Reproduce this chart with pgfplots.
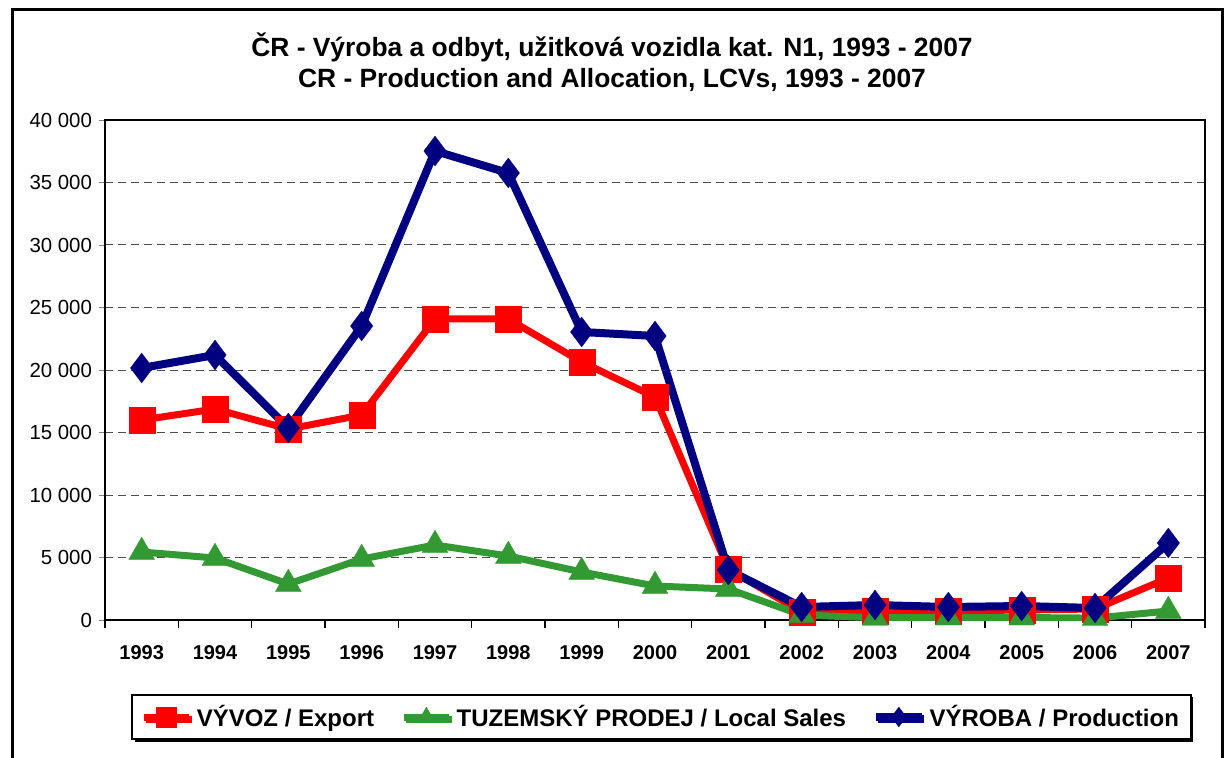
\documentclass[border=0pt]{standalone}
\usepackage{fontspec}
\setmainfont{Liberation Sans}
\usepackage{pgfplots}
\usepackage{pgfplotstable}
\pgfplotsset{compat=1.18}
\usetikzlibrary{shadows}
\definecolor{cred}{RGB}{255,0,0}
\definecolor{cgreen}{RGB}{51,153,51}
\definecolor{cnavy}{RGB}{0,0,128}

\pgfplotstableread{
x year export local production
1 1993 16000 5440 20160
2 1994 16880 4960 21200
3 1995 15280 2880 15360
4 1996 16400 4880 23520
5 1997 24080 6000 37520
6 1998 24080 5120 35760
7 1999 20640 3840 23040
8 2000 17840 2720 22720
9 2001 4080 2480 4000
10 2002 640 400 1040
11 2003 720 180 1200
12 2004 720 200 1040
13 2005 800 200 1120
14 2006 880 150 960
15 2007 3360 720 6160
}\datatable

\begin{document}
\begin{tikzpicture}
\useasboundingbox (0pt,0pt) rectangle (612.5pt,-379pt);
\draw[line width=1.5pt] (6pt,-379pt) -- (6pt,-5pt) -- (611pt,-5pt) -- (611pt,-379pt);
\node[font=\bfseries\fontsize{13.2}{15}\selectfont] at (306pt,-23.5pt) {ČR - Výroba a odbyt, užitková vozidla kat. N1, 1993 - 2007};
\node[font=\bfseries\fontsize{13.2}{15}\selectfont] at (306pt,-40pt) {CR - Production and Allocation, LCVs, 1993 - 2007};
\begin{axis}[
  at={(52.5pt,-310pt)}, anchor=south west,
  scale only axis, width=550pt, height=250pt,
  xmin=0.5, xmax=15.5, ymin=0, ymax=40000,
  xtick={1,...,15},
  xticklabels={1993,1994,1995,1996,1997,1998,1999,2000,2001,2002,2003,2004,2005,2006,2007},
  minor xtick={0.5,1.5,...,15.5},
  major x tick style={draw=none},
  minor x tick style={black, line width=0.6pt},
  minor tick length=4pt,
  major tick length=3pt,
  tick align=outside,
  xtick pos=bottom, ytick pos=left,
  ytick={0,5000,...,40000},
  scaled y ticks=false,
  /pgf/number format/assume math mode=true,
  /pgf/number format/1000 sep={\ },
  x tick label style={font=\bfseries\fontsize{10}{11}\selectfont, yshift=-6pt},
  y tick label style={font=\fontsize{10.2}{11}\selectfont},
  axis line style={black, line width=0.7pt},
  ymajorgrids,
  major grid style={black!70, dashed, line width=0.5pt, dash pattern=on 4pt off 2.5pt},
  legend columns=3,
  legend style={at={(0.506,-0.194)}, anchor=center, draw=black, line width=0.8pt,
    fill=white, drop shadow={shadow xshift=1.2pt, shadow yshift=-1.2pt, fill=black, opacity=1},
    font=\bfseries\fontsize{12}{14}\selectfont, inner xsep=4pt, inner ysep=3pt,
    /tikz/every even column/.append style={column sep=11pt}},
  legend image code/.code={\draw[mark size=5pt, mark repeat=2,mark phase=2] plot coordinates {(0cm,0cm) (0.4cm,0cm) (0.8cm,0cm)};},
]
\addplot[color=cred, line width=3.5pt, mark=square*, mark size=6.5pt, mark options={solid, line width=0.1pt}] table[x=x, y=export] {\datatable};
\addlegendentry{VÝVOZ / Export}
\addplot[color=cgreen, line width=3.5pt, mark=triangle*, mark size=7.5pt, mark options={solid, line width=0.1pt}] table[x=x, y=local] {\datatable};
\addlegendentry{TUZEMSKÝ PRODEJ / Local Sales}
\addplot[color=cnavy, line width=4pt, mark=diamond*, mark size=7.5pt, mark options={solid, line width=0.1pt}] table[x=x, y=production] {\datatable};
\addlegendentry{VÝROBA / Production}
\end{axis}
\end{tikzpicture}
\end{document}
